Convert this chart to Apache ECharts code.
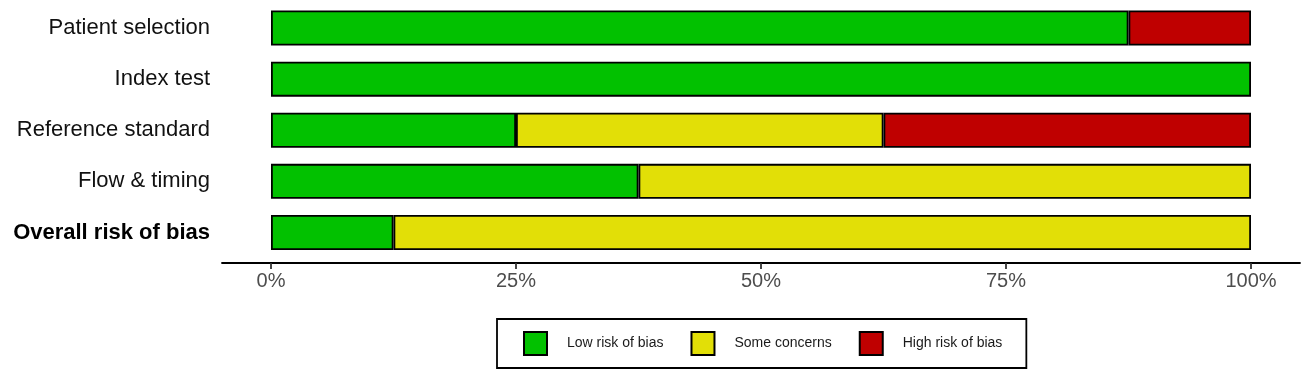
<!DOCTYPE html>
<html>
<head>
<meta charset="utf-8">
<script src="https://cdn.jsdelivr.net/npm/echarts@6/dist/echarts.min.js"></script>
<style>
html,body{margin:0;padding:0;background:#fff;}
#chart{width:1308px;height:374px;}
</style>
</head>
<body>
<div id="chart"></div>
<script>
const categories = ['Patient selection', 'Index test', 'Reference standard', 'Flow & timing', 'Overall risk of bias'];
const lowRisk = [87.5, 100, 25, 37.5, 12.5];
const someConcerns = [0, 0, 37.5, 62.5, 87.5];
const highRisk = [12.5, 0, 37.5, 0, 0];
const tickValues = [0, 25, 50, 75, 100];
const seriesNames = ['Low risk of bias', 'Some concerns', 'High risk of bias'];
const seriesColors = ['#02C100', '#E2DF07', '#BF0000'];

const chart = echarts.init(document.getElementById('chart'));
const allData = [lowRisk, someConcerns, highRisk];
const series = allData.map((arr, i) => ({
  name: seriesNames[i],
  type: 'bar',
  stack: 'total',
  barWidth: 35,
  data: arr.map(v => v === 0 ? null : v),
  itemStyle: { color: seriesColors[i], borderColor: '#000', borderWidth: 1.8 },
  emphasis: { disabled: true },
  animation: false
}));

const FONT = 'Liberation Sans, Arial, sans-serif';

chart.setOption({
  animation: false,
  grid: { left: 222, right: 8, top: 2.5, bottom: 116, containLabel: false },
  xAxis: {
    type: 'value',
    min: -5,
    max: 105,
    offset: 5,
    splitLine: { show: false },
    axisLine: { show: true, lineStyle: { color: '#000', width: 1.8 } },
    axisTick: { show: true, customValues: tickValues, length: 6, lineStyle: { color: '#333', width: 1.8 } },
    axisLabel: {
      customValues: tickValues,
      formatter: v => v + '%',
      color: '#4D4D4D',
      fontSize: 20,
      fontFamily: FONT,
      margin: 8
    }
  },
  yAxis: {
    type: 'category',
    data: categories,
    inverse: true,
    axisLine: { show: false },
    axisTick: { show: false },
    axisLabel: {
      color: '#111',
      fontSize: 22,
      fontFamily: FONT,
      margin: 12,
      formatter: v => v === 'Overall risk of bias' ? '{b|' + v + '}' : v,
      rich: { b: { fontWeight: 'bold', fontSize: 22, color: '#000', fontFamily: FONT } }
    }
  },
  legend: {
    left: 497,
    top: 319,
    orient: 'horizontal',
    icon: 'rect',
    itemWidth: 23,
    itemHeight: 23,
    itemGap: 27,
    padding: [12, 24, 12, 26],
    borderColor: '#000',
    borderWidth: 1.8,
    selectedMode: false,
    data: seriesNames,
    textStyle: {
      color: '#1A1A1A',
      fontSize: 14,
      fontFamily: FONT,
      padding: [0, 0, 0, 15]
    }
  },
  series: series
});
</script>
</body>
</html>
